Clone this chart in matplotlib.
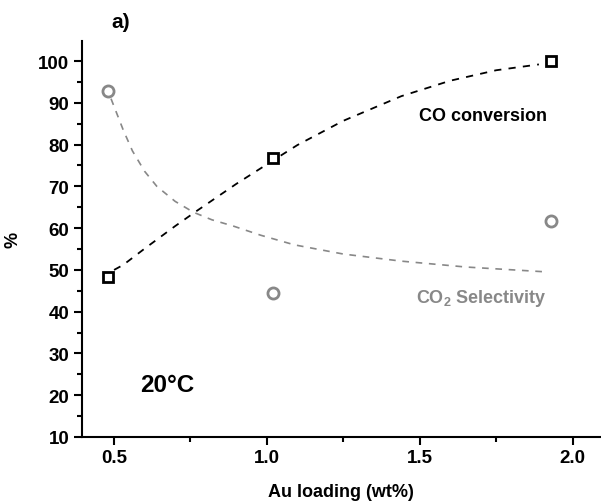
""" Au loading: CO conversion and CO2 selectivity at 20 C """
import matplotlib
matplotlib.use("Agg")
import matplotlib.pyplot as plt
from matplotlib.ticker import MultipleLocator

plt.rcParams['font.family'] = ['Liberation Sans', 'DejaVu Sans']
plt.rcParams['font.weight'] = 'bold'
plt.rcParams['mathtext.fontset'] = 'custom'
plt.rcParams['mathtext.bf'] = 'Liberation Sans:bold'

# measured points
au_loading = [0.48, 1.02, 1.93]
co_conversion = [48.3, 76.7, 100.0]
co2_selectivity = [92.9, 44.4, 61.6]

# guide-to-the-eye curves
conv_fit_x = [0.50, 0.53, 0.60, 0.70, 0.77, 0.90, 1.02, 1.10, 1.25, 1.44, 1.60, 1.75, 1.89]
conv_fit_y = [50.0, 51.2, 55.1, 60.5, 64.1, 70.6, 76.2, 79.9, 85.7, 91.6, 95.3, 97.8, 99.2]
sel_fit_x = [0.49, 0.53, 0.56, 0.60, 0.64, 0.70, 0.76, 0.82, 0.89, 0.98, 1.09, 1.25, 1.44, 1.65, 1.92]
sel_fit_y = [91.0, 83.5, 78.5, 73.6, 70.0, 66.4, 63.8, 62.0, 60.5, 58.3, 56.0, 53.8, 52.1, 50.7, 49.5]

fig = plt.figure(figsize=(6.01, 5.02), dpi=100)
ax = fig.add_axes([0.1364, 0.1275, 0.8620, 0.7888])

ax.plot(conv_fit_x, conv_fit_y, color='black', linestyle=(0, (4, 4)), linewidth=1.3)
ax.plot(sel_fit_x, sel_fit_y, color='#888888', linestyle=(0, (4, 4)), linewidth=1.2)

ax.plot(au_loading, co_conversion, linestyle='none', marker='s', markersize=7.5,
        markerfacecolor='white', markeredgecolor='black', markeredgewidth=2, zorder=5)
ax.plot(au_loading, co2_selectivity, linestyle='none', marker='o', markersize=8,
        markerfacecolor='white', markeredgecolor='#888888', markeredgewidth=2, zorder=5)

ax.set_xlim(0.395, 2.09)
ax.set_ylim(10, 104.8)
ax.xaxis.set_major_locator(MultipleLocator(0.5))
ax.xaxis.set_minor_locator(MultipleLocator(0.25))
ax.yaxis.set_major_locator(MultipleLocator(10))
ax.yaxis.set_minor_locator(MultipleLocator(5))

for side in ['top', 'right']:
    ax.spines[side].set_visible(False)
for side in ['left', 'bottom']:
    ax.spines[side].set_linewidth(1.5)

ax.tick_params(which='major', direction='out', length=6, width=1.5, labelsize=13.5, pad=3)
ax.tick_params(which='minor', direction='out', length=3.5, width=1.5)
for lbl in ax.get_xticklabels() + ax.get_yticklabels():
    lbl.set_fontweight('bold')

ax.set_xlabel('Au loading (wt%)', fontsize=13, fontweight='bold', labelpad=12)
ax.set_ylabel('%', fontsize=13, fontweight='bold', labelpad=12)

ax.text(1.707, 87.0, 'CO conversion', fontsize=13, fontweight='bold', ha='center', va='center')
ax.text(1.70, 42.3, 'CO$_\\mathbf{2}$ Selectivity', fontsize=13, fontweight='bold',
        color='#888888', ha='center', va='baseline')
ax.text(0.673, 22.5, '20°C', fontsize=17.5, fontweight='bold', ha='center', va='center')
fig.text(0.2, 0.955, 'a)', fontsize=15, fontweight='bold', ha='center', va='center')

fig.savefig('out.png', dpi=100)
